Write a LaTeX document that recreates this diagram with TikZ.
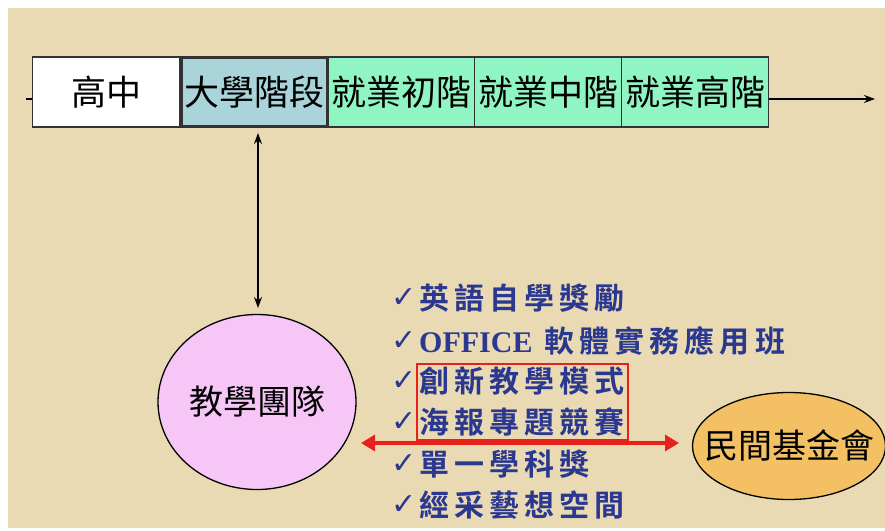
\documentclass[tikz,border=0pt]{standalone}
\usepackage{fontspec}
\setmainfont{Noto Sans CJK TC}
\newfontfamily\listfont[LetterSpace=17]{Noto Sans CJK TC Bold}
\newfontfamily\latinbold{Liberation Serif Bold}
\newfontfamily\symfont{DejaVu Sans}
\usetikzlibrary{arrows.meta,positioning,shapes.geometric}
\definecolor{parch}{HTML}{EADAB4}
\definecolor{navy}{HTML}{2A3890}
\definecolor{stagegreen}{HTML}{8FF5C3}
\definecolor{stageblue}{HTML}{A9D4DA}
\definecolor{pinkfill}{HTML}{F6C6F6}
\definecolor{orangefill}{HTML}{F3C163}
\definecolor{redline}{HTML}{E8221A}
\tikzset{
  stagebox/.style={draw=black!80, line width=1.3pt, minimum width=147pt, minimum height=70pt, inner sep=0pt, anchor=west, font=\fontsize{35}{35}\selectfont},
  listitem/.style={anchor=west, inner sep=0pt, text=navy, font=\listfont\fontsize{30}{30}\selectfont},
  chk/.style={anchor=west, inner sep=0pt, text=navy, font=\symfont\fontsize{30}{30}\selectfont},
  blackarrow/.style={line width=2.2pt, -{Stealth[length=11pt,width=8pt]}},
  redarrow/.style={draw=redline, line width=3.4pt, {Triangle[length=14pt,width=16pt]}-{Triangle[length=14pt,width=16pt]}},
  blob/.style={ellipse, draw=black, line width=1.3pt, inner sep=0pt},
  blobtext/.style={inner sep=0pt, font=\fontsize{34}{34}\selectfont}
}
\begin{document}
\begin{tikzpicture}[x=1pt,y=-1pt]
\useasboundingbox (0,0) rectangle (885,530);
\fill[white] (0,0) rectangle (885,530);
\fill[parch] (8,8) rectangle (885,528);
% timeline
\node[stagebox, fill=white] (hs) at (32,92) {高中};
\node[stagebox, fill=stagegreen] (e1) at (327,92) {就業初階};
\node[stagebox, fill=stagegreen] (e2) at (474,92) {就業中階};
\node[stagebox, fill=stagegreen] (e3) at (621,92) {就業高階};
\node[stagebox, fill=stageblue, line width=3.4pt, minimum width=146pt, minimum height=69pt] (uni) at (180,92) {大學階段};
\coordinate (tstart) at (26,99);
\coordinate (tend) at (875,99);
\draw[line width=2.2pt] (tstart) -- (hs.west |- tstart);
\draw[blackarrow] (e3.east |- tend) -- (tend);
% ellipses
\node[blob, fill=pinkfill, minimum width=198pt, minimum height=175pt] (team) at (257,402) {};
\node[blobtext] (teamlabel) at (team.center) {教學團隊};
\node[blob, fill=orangefill, minimum width=193pt, minimum height=107pt] (fund) at (789,446) {};
\node[blobtext] (fundlabel) at (fund.center) {民間基金會};
\coordinate (ua) at (258,133);
\coordinate (ub) at (258,308);
\draw[line width=2.2pt, {Stealth[length=11pt,width=8pt]}-{Stealth[length=11pt,width=8pt]}] (ua) -- (ub);
% list
\node[chk] (c1) at (391,298) {✓};
\node[listitem] (l1) at (419,298) {英語自學獎勵};
\node[chk] (c2) at (391,341) {✓};
\node[listitem] (l2) at (419,341) {{\latinbold\fontsize{30}{30}\selectfont OFFICE} 軟體實務應用班};
\node[chk] (c3) at (391,381) {✓};
\node[listitem] (l3) at (419,381) {創新教學模式};
\node[chk] (c4) at (391,422) {✓};
\node[listitem] (l4) at (419,422) {海報專題競賽};
\node[chk] (c5) at (391,464) {✓};
\node[listitem] (l5) at (419,464) {單一學科獎};
\node[chk] (c6) at (391,505) {✓};
\node[listitem] (l6) at (419,505) {經采藝想空間};
% red box and arrow
\draw[redline, line width=2pt] (417,364) rectangle (628,440);
\coordinate (ra) at (361,443);
\coordinate (rb) at (679,443);
\draw[redarrow] (ra) -- (rb);
\end{tikzpicture}
\end{document}
